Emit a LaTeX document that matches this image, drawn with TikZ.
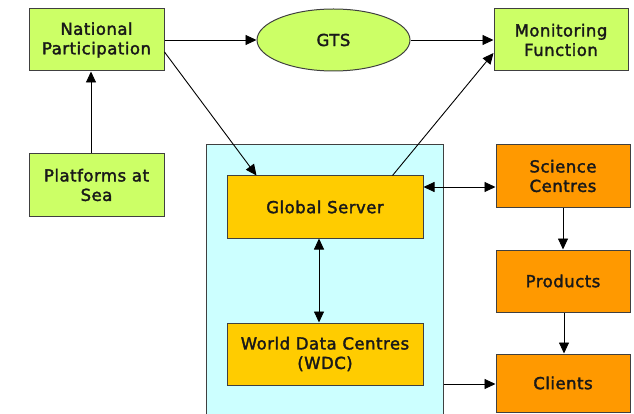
\documentclass[tikz,border=0pt]{standalone}
\usepackage{fontspec}
\setmainfont{DejaVu Sans}
\newfontfamily\lblfont{DejaVu Sans}[FakeBold=2, LetterSpace=3]
\usetikzlibrary{shapes.geometric,arrows.meta,calc}
\definecolor{lgreen}{HTML}{CCFF66}
\definecolor{orangeb}{HTML}{FF9900}
\definecolor{goldb}{HTML}{FFCC00}
\definecolor{lcyan}{HTML}{CCFFFF}
\definecolor{edge}{HTML}{404040}
\tikzset{
  lbl/.style={font=\lblfont\fontsize{16.5}{19.5}\selectfont, text=black!90},
  box/.style={draw=edge, line width=1pt, rectangle, align=center, inner sep=0pt,
    minimum height=62pt, lbl},
  greenbox/.style={box, fill=lgreen, minimum width=135pt},
  orangebox/.style={box, fill=orangeb, minimum width=134pt},
  goldbox/.style={box, fill=goldb, minimum width=196pt},
  arr/.style={line width=0.9pt, -{Triangle[length=11pt,width=10pt]}},
  darr/.style={line width=0.9pt, {Triangle[length=11pt,width=10pt]}-{Triangle[length=11pt,width=10pt]}},
}
\begin{document}
\begin{tikzpicture}[x=1pt,y=-1pt]
\useasboundingbox (0,0) rectangle (634,414);
\clip (0,0) rectangle (634,414);
\node[draw=edge, line width=1pt, fill=lcyan, rectangle, minimum width=237pt, minimum height=275pt, inner sep=0pt] (hub) at (324.5,282.5) {};
\node[greenbox] (nat) at (96.5,40) {National\\Participation};
\node[greenbox] (plat) at (96.5,185) {Platforms at\\Sea};
\node[draw=edge, line width=1pt, fill=lgreen, ellipse, minimum width=153pt, minimum height=62pt, inner sep=0pt, lbl] (gts) at (333.5,40) {GTS};
\node[greenbox, minimum width=134pt] (mon) at (561,40) {Monitoring\\Function};
\node[goldbox] (gs) at (325,207) {Global Server};
\node[goldbox] (wdc) at (325,354) {World Data Centres\\(WDC)};
\node[orangebox] (sci) at (563,176) {Science\\Centres};
\node[orangebox] (prod) at (563,281) {Products};
\node[orangebox, minimum height=58pt] (cli) at (563,383) {Clients};
\draw[arr] ($(plat.north)+(-5.5,0)$) -- ($(nat.south)+(-5.5,0)$);
\draw[arr] (nat.east) -- (gts.west);
\draw[arr] (gts.east) -- (mon.west);
\draw[arr] ($(nat.east)+(0,12)$) -- ($(gs.north west)+(30,0)$);
\draw[arr] ($(gs.north east)+(-31,0)$) -- ($(mon.west)+(0,13)$);
\draw[darr] ($(gs.east)+(0,-20)$) -- ($(sci.west)+(0,11)$);
\draw[darr] ($(gs.south)+(-6,0)$) -- ($(wdc.north)+(-6,0)$);
\draw[arr] (sci.south) -- (prod.north);
\draw[arr] ($(prod.south)+(1,0)$) -- ($(cli.north)+(1,0)$);
\draw[arr] ($(hub.east)+(0,101.5)$) -- ($(cli.west)+(0,1)$);
\end{tikzpicture}
\end{document}
